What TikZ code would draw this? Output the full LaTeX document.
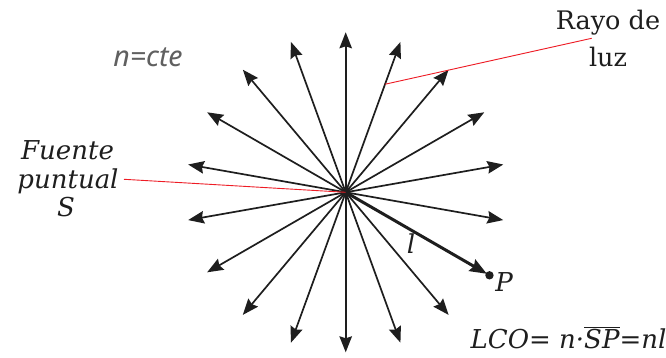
\documentclass[tikz,border=0pt]{standalone}
\usepackage{fontspec}
\setmainfont{DejaVu Serif}
\newfontfamily\labelsans{Noto Sans}
\usetikzlibrary{arrows.meta,calc}
\definecolor{inkc}{HTML}{1E1E1E}
\definecolor{grayc}{HTML}{606060}
\definecolor{redc}{HTML}{EE1C25}
\tikzset{
  ray/.style={draw=inkc, line width=1.7pt, -{Stealth[length=16pt,width=12.5pt,inset=2pt]}},
  mainray/.style={draw=inkc, line width=3pt, -{Stealth[length=17pt,width=13pt,inset=2pt]}},
  leader/.style={draw=redc, line width=0.9pt},
  lbl/.style={inner sep=0pt, outer sep=0pt, text=inkc, font=\fontsize{26}{29}\selectfont\itshape, anchor=base},
  uplbl/.style={inner sep=0pt, outer sep=0pt, text=inkc, font=\fontsize{25.5}{29}\selectfont, anchor=base},
}
\begin{document}
\begin{tikzpicture}[x=1pt,y=-1pt]
\useasboundingbox (0,0) rectangle (666,358);
\fill[white] (0,0) rectangle (666,358);
\coordinate (S) at (345.7,192.3);
% rays
\foreach \a in {90,70,50,30,10,-10,-50,-70,-90,-110,-130,-150,-170,170,150,130,110} {
  \coordinate (t\a) at ($(S)+(\a:160pt)$);
  \draw[ray] (S) -- (t\a);
}
% main ray to P
\coordinate (P) at ($(S)+(-30:166pt)$);
\draw[mainray, shorten >=3pt] (S) -- (P);
\fill[inkc] (P) circle (4.2pt);
% labels
\node[lbl] (Pl) at (504,291.7) {P};
\node[lbl] (ll) at (411,253) {l};
\node[lbl] (fu1) at (67.5,159.3) {Fuente};
\node[lbl] (fu2) at (68,188.3) {puntual};
\node[lbl] (fu3) at (66,216.7) {S};
\node[uplbl] (ra1) at (608,29.3) {Rayo de};
\node[uplbl] (ra2) at (608,66.7) {luz};
\node[inner sep=0pt, outer sep=0pt, anchor=base, text=grayc, font=\labelsans\fontsize{28.5}{32}\selectfont\itshape] (nc) at (148,66.7) {n=cte};
\node[lbl] (lco) at (568.5,348.3) {LCO= n·$\overline{\mbox{\itshape SP}}$=nl};
% leaders
\coordinate (rl) at (591.7,38.3);
\coordinate (fl) at (124,179.3);
\draw[leader] (rl) -- ($(S)+(70:115pt)$);
\draw[leader] (fl) -- (S);
\end{tikzpicture}
\end{document}
